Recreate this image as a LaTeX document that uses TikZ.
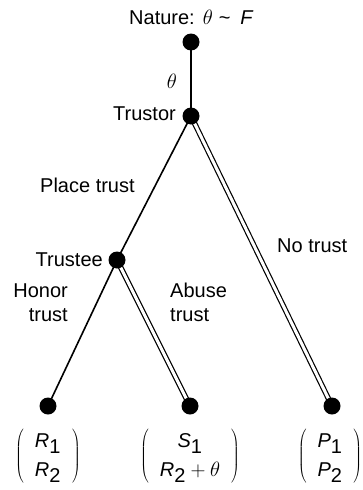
\documentclass[tikz,border=0pt]{standalone}
\usepackage{fontspec}
\setmainfont{Liberation Sans}
\newcommand{\payoff}[2]{$\setlength{\arraycolsep}{11pt}\renewcommand{\arraystretch}{1.2}\left(\begin{array}{c}#1\\#2\end{array}\right)$}
\newcommand{\vv}[2]{\textit{#1}_{\textrm{#2}}}
\begin{document}
\begin{tikzpicture}[x=1pt,y=-1pt,
  dot/.style={circle,fill=black,inner sep=0pt,minimum size=17pt},
  lbl/.style={inner sep=0pt,font=\fontsize{20}{24}\selectfont},
  single/.style={line width=1.6pt},
  dbl/.style={double,double distance=3pt,line width=1.2pt}]
\useasboundingbox (0,0) rectangle (362,490);
\coordinate (nat) at (191,42);
\coordinate (tor) at (191,116);
\coordinate (tee) at (117,260);
\coordinate (l1) at (48,406);
\coordinate (l2) at (190,406);
\coordinate (l3) at (332,406);
\draw[single] (nat) -- (tor);
\draw[single] (tor) -- (tee);
\draw[single] (tee) -- (l1);
\draw[dbl] (tee) -- (l2);
\draw[dbl] (tor) -- (l3);
\foreach \n in {nat,tor,tee,l1,l2,l3} \node[dot] (d\n) at (\n) {};
\node[lbl,anchor=base west] (tnat) at (129,24) {Nature:\hspace{8pt}$\theta$\hspace{6pt}\textasciitilde\hspace{10pt}\textit{F}};
\node[lbl] (ttheta) at (172,81) {$\theta$};
\node[lbl,anchor=base east] (ttor) at (176,120) {Trustor};
\node[lbl,anchor=base west] (tplace) at (40,192) {Place trust};
\node[lbl,anchor=base east] (ttee) at (103,266) {Trustee};
\node[lbl,anchor=base west] (tno) at (277,252) {No trust};
\node[lbl,anchor=base east,align=right] (thon) at (68,321) {Honor\\trust};
\node[lbl,anchor=base west,align=left] (tab) at (170,321) {Abuse\\trust};
\node[lbl] (p1) at (48,456) {\payoff{\vv{R}{1}}{\vv{R}{2}}};
\node[lbl] (p2) at (190,456) {\payoff{\vv{S}{1}}{\vv{R}{2}+\theta}};
\node[lbl] (p3) at (330,456) {\payoff{\vv{P}{1}}{\vv{P}{2}}};
\end{tikzpicture}
\end{document}
